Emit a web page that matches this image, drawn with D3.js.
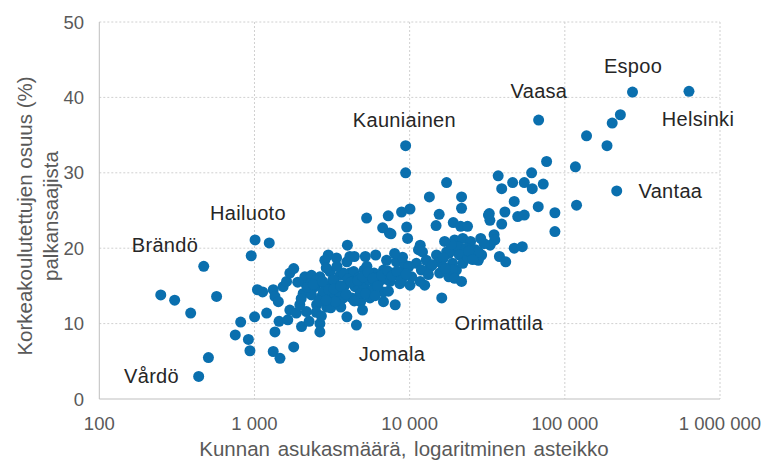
<!DOCTYPE html>
<html>
<head>
<meta charset="utf-8">
<script src="https://cdn.jsdelivr.net/npm/d3@7"></script>
<style>
  body { margin: 0; background: #fff; }
  text { font-family: "Liberation Sans", Arial, sans-serif; }
</style>
</head>
<body>
<script>
// kunnan asukasmäärä ja korkeakoulutettujen osuus (%)
var population = [
  249, 306, 388, 471, 570, 437, 505, 752, 815, 914, 935, 1002, 953, 1009, 1245, 1045,
  1129, 1321, 1355, 1425, 1198, 1321, 1460, 1790, 1355, 1440, 1640, 1690, 1860, 2010,
  2250, 2160, 2640, 2640, 3940, 4540, 1530, 1610, 1690, 1790,
  2110, 2330, 2640, 3070, 3550, 4120, 2160, 2450, 2840, 3300, 3830, 4450,
  2060, 2330, 2710, 3150, 3650, 4250, 2515, 2920, 3380, 1960, 2990, 2840, 3380, 4120,
  3970, 6700, 7400, 9700, 11700, 11400, 14900, 17300, 19500, 15600, 18900, 13500,
  15600, 17900, 20000, 16100, 12500, 11700, 3940, 4400, 5180, 6040, 7100, 8220, 9260,
  11050, 10300, 11900, 3740, 4360, 5080, 5900, 6780, 7840, 9040, 6470, 7480, 8650,
  10050, 3740, 5080, 5900, 6780, 5550, 4830, 3740, 6780, 8070, 4970,
  9420, 9420, 17300, 13400, 21600, 10050, 8870, 7280, 5280, 15500, 14800, 19100,
  7580, 9570, 21600, 21300, 23600, 32200, 32900, 12100,
  28700, 35000, 35400, 33000, 47200, 53200, 37900, 41600, 19500, 22000, 24700, 20600,
  23200, 26500, 29100, 17900, 20900, 24700, 27700, 16500, 22000, 23800, 16500, 18900,
  19500, 21600, 30200, 27700,
  273000, 631000, 228000, 202000, 138000, 187000, 67800, 76300, 117000, 216000, 119000,
  61100, 37200, 39200, 46100, 54800, 61700, 72600, 47200, 67400, 86300, 86300, 41100,
  32600, 49700, 54800, 39200,
  2480, 2780, 3200, 3480, 4000, 2300, 2600, 3000, 4300, 4800, 5500, 6300, 2200, 2500,
  2900, 3400, 5300, 6100, 7000, 3100, 3600, 4700, 5700, 2000, 2700, 8600, 9900, 1900,
  2400, 2750, 3250, 3600, 3900, 4200, 4650, 5000, 5400, 5800, 6200, 6600, 7200, 7700,
  8300, 8800, 9500, 4400, 5200, 6000, 7300, 3300, 2900, 12800, 14000, 13200, 17000,
  24000, 25500, 18500, 16800, 9000, 8000
];
var share = [
  13.8, 13.1, 11.4, 17.6, 13.6, 3.0, 5.5, 8.5, 10.2, 7.9, 6.4, 10.9, 19.0, 21.1, 20.7, 14.5,
  14.2, 14.5, 13.6, 12.9, 11.4, 6.3, 5.4, 6.9, 8.9, 10.3, 10.5, 11.8, 11.4, 9.6,
  10.3, 11.6, 10.0, 8.9, 10.9, 9.8, 14.9, 15.6, 16.7, 17.3,
  16.2, 16.4, 16.2, 16.9, 16.4, 16.7, 15.1, 14.9, 15.1, 15.3, 15.1, 14.9,
  14.0, 13.8, 13.6, 13.8, 13.6, 13.4, 12.5, 12.2, 12.7, 12.5, 19.1, 18.4, 18.7, 18.9,
  20.4, 22.7, 22.0, 21.3, 20.4, 19.8, 19.1, 19.5, 19.8, 18.2, 18.0, 17.5,
  16.7, 16.2, 17.1, 13.4, 15.1, 15.6, 18.2, 18.9, 18.9, 19.1, 18.4, 18.2, 17.8,
  18.0, 16.2, 17.1, 16.7, 16.9, 17.1, 16.7, 17.1, 16.7, 16.2, 15.8, 15.6, 15.3,
  15.1, 14.9, 15.1, 14.7, 14.2, 13.4, 12.9, 13.4, 12.9, 12.5, 11.8,
  33.6, 30.0, 28.7, 26.8, 26.8, 25.2, 24.8, 24.3, 24.0, 24.5, 23.0, 23.4,
  21.9, 22.8, 25.3, 22.9, 22.9, 24.4, 23.7, 19.5,
  21.3, 21.8, 21.1, 20.4, 20.0, 20.2, 18.9, 18.2, 21.1, 21.3, 20.9, 20.2,
  20.0, 19.8, 19.1, 19.3, 19.1, 18.9, 18.4, 18.7, 18.0, 18.7, 17.5, 17.1,
  16.0, 15.6, 20.6, 19.5,
  40.7, 40.8, 37.7, 36.6, 34.9, 33.6, 37.0, 31.5, 30.8, 27.6, 25.7,
  30.0, 29.6, 27.9, 28.7, 28.7, 27.9, 28.5, 26.2, 25.5, 24.7, 22.2, 24.8,
  24.6, 24.2, 24.4, 23.2,
  15.7, 14.2, 15.8, 14.3, 15.9, 15.3, 13.0, 14.5, 15.6, 14.0, 15.8, 15.4, 14.8, 11.5,
  17.4, 17.6, 17.6, 16.1, 15.9, 12.1, 12.2, 16.1, 14.4, 13.3, 11.0, 16.8, 17.6, 15.5,
  15.2, 15.6, 14.6, 15.0, 13.9, 15.5, 15.7, 16.2, 16.8, 16.0, 15.0, 16.4, 17.0, 16.3,
  16.9, 15.7, 16.6, 13.0, 14.0, 13.7, 14.3, 12.9, 13.1, 18.4, 17.8, 16.5, 17.3,
  19.6, 18.5, 20.5, 20.9, 18.8, 19.3
];
var xTicks = [100, 1000, 10000, 100000, 1000000];
var yTicks = [0, 10, 20, 30, 40, 50];
var labelNames = ["Espoo", "Vaasa", "Helsinki", "Vantaa", "Kauniainen", "Hailuoto", "Brändö", "Vårdö", "Jomala", "Orimattila"];
var labelPop = [275000, 68100, 721000, 479000, 9250, 908, 265, 217, 7690, 37600];
var labelShare = [43.2, 39.9, 36.2, 26.7, 36.1, 23.7, 19.5, 2.1, 5.0, 9.2];

var width = 763, height = 462;
var mLeft = 99.3, mRight = 720, mTop = 22, mBottom = 399;

var fi = d3.formatLocale({decimal: ",", thousands: " ", grouping: [3], currency: ["", " €"]});
var fmt = fi.format(",d");

var svg = d3.select("body").append("svg")
    .attr("width", width)
    .attr("height", height);

var x = d3.scaleLog().domain([100, 1000000]).range([mLeft, mRight]);
var y = d3.scaleLinear().domain([0, 50]).range([mBottom, mTop]);

// ruudukko
svg.append("g").selectAll("line")
    .data(yTicks.slice(1))
    .join("line")
    .attr("x1", mLeft).attr("x2", mRight)
    .attr("y1", d => y(d)).attr("y2", d => y(d))
    .attr("stroke", "#d0d0d0")
    .attr("stroke-dasharray", "2,2");

svg.append("g").selectAll("line")
    .data(xTicks.slice(1))
    .join("line")
    .attr("x1", d => x(d)).attr("x2", d => x(d))
    .attr("y1", mTop).attr("y2", mBottom)
    .attr("stroke", "#d0d0d0")
    .attr("stroke-dasharray", "2,2");

// akselit
svg.append("line")
    .attr("x1", mLeft).attr("x2", mLeft)
    .attr("y1", mTop).attr("y2", mBottom)
    .attr("stroke", "#bfbfbf");
svg.append("line")
    .attr("x1", mLeft).attr("x2", mRight)
    .attr("y1", mBottom).attr("y2", mBottom)
    .attr("stroke", "#bfbfbf");

svg.append("g").selectAll("text")
    .data(yTicks)
    .join("text")
    .attr("x", 84)
    .attr("y", d => y(d) + 6.5)
    .attr("text-anchor", "end")
    .attr("font-size", "18.5px")
    .attr("fill", "#595959")
    .text(d => d);

svg.append("g").selectAll("text")
    .data(xTicks)
    .join("text")
    .attr("x", d => x(d))
    .attr("y", 430)
    .attr("text-anchor", "middle")
    .attr("font-size", "18.5px")
    .attr("fill", "#595959")
    .text(d => fmt(d));

svg.append("text")
    .attr("x", 404)
    .attr("y", 456)
    .attr("text-anchor", "middle")
    .attr("font-size", "20.5px")
    .attr("word-spacing", "2px")
    .attr("fill", "#595959")
    .text("Kunnan asukasmäärä, logaritminen asteikko");

var yt = svg.append("text")
    .attr("transform", "translate(32,216) rotate(-90)")
    .attr("text-anchor", "middle")
    .attr("font-size", "20.5px")
    .attr("fill", "#595959");
yt.append("tspan").attr("x", 0).attr("dy", 0).text("Korkeakoulutettujen osuus (%)");
yt.append("tspan").attr("x", 0).attr("dy", 26).text("palkansaajista");

// pisteet
svg.append("g").selectAll("circle")
    .data(d3.range(population.length))
    .join("circle")
    .attr("cx", i => x(population[i]))
    .attr("cy", i => y(share[i]))
    .attr("r", 5.5)
    .attr("fill", "#0a6fae");

// kuntien nimet
svg.append("g").selectAll("text")
    .data(labelNames)
    .join("text")
    .attr("x", (d, i) => x(labelPop[i]))
    .attr("y", (d, i) => y(labelShare[i]))
    .attr("text-anchor", "middle")
    .attr("font-size", "20px")
    .attr("letter-spacing", "0.3px")
    .attr("fill", "#262626")
    .text(d => d);
</script>
</body>
</html>
